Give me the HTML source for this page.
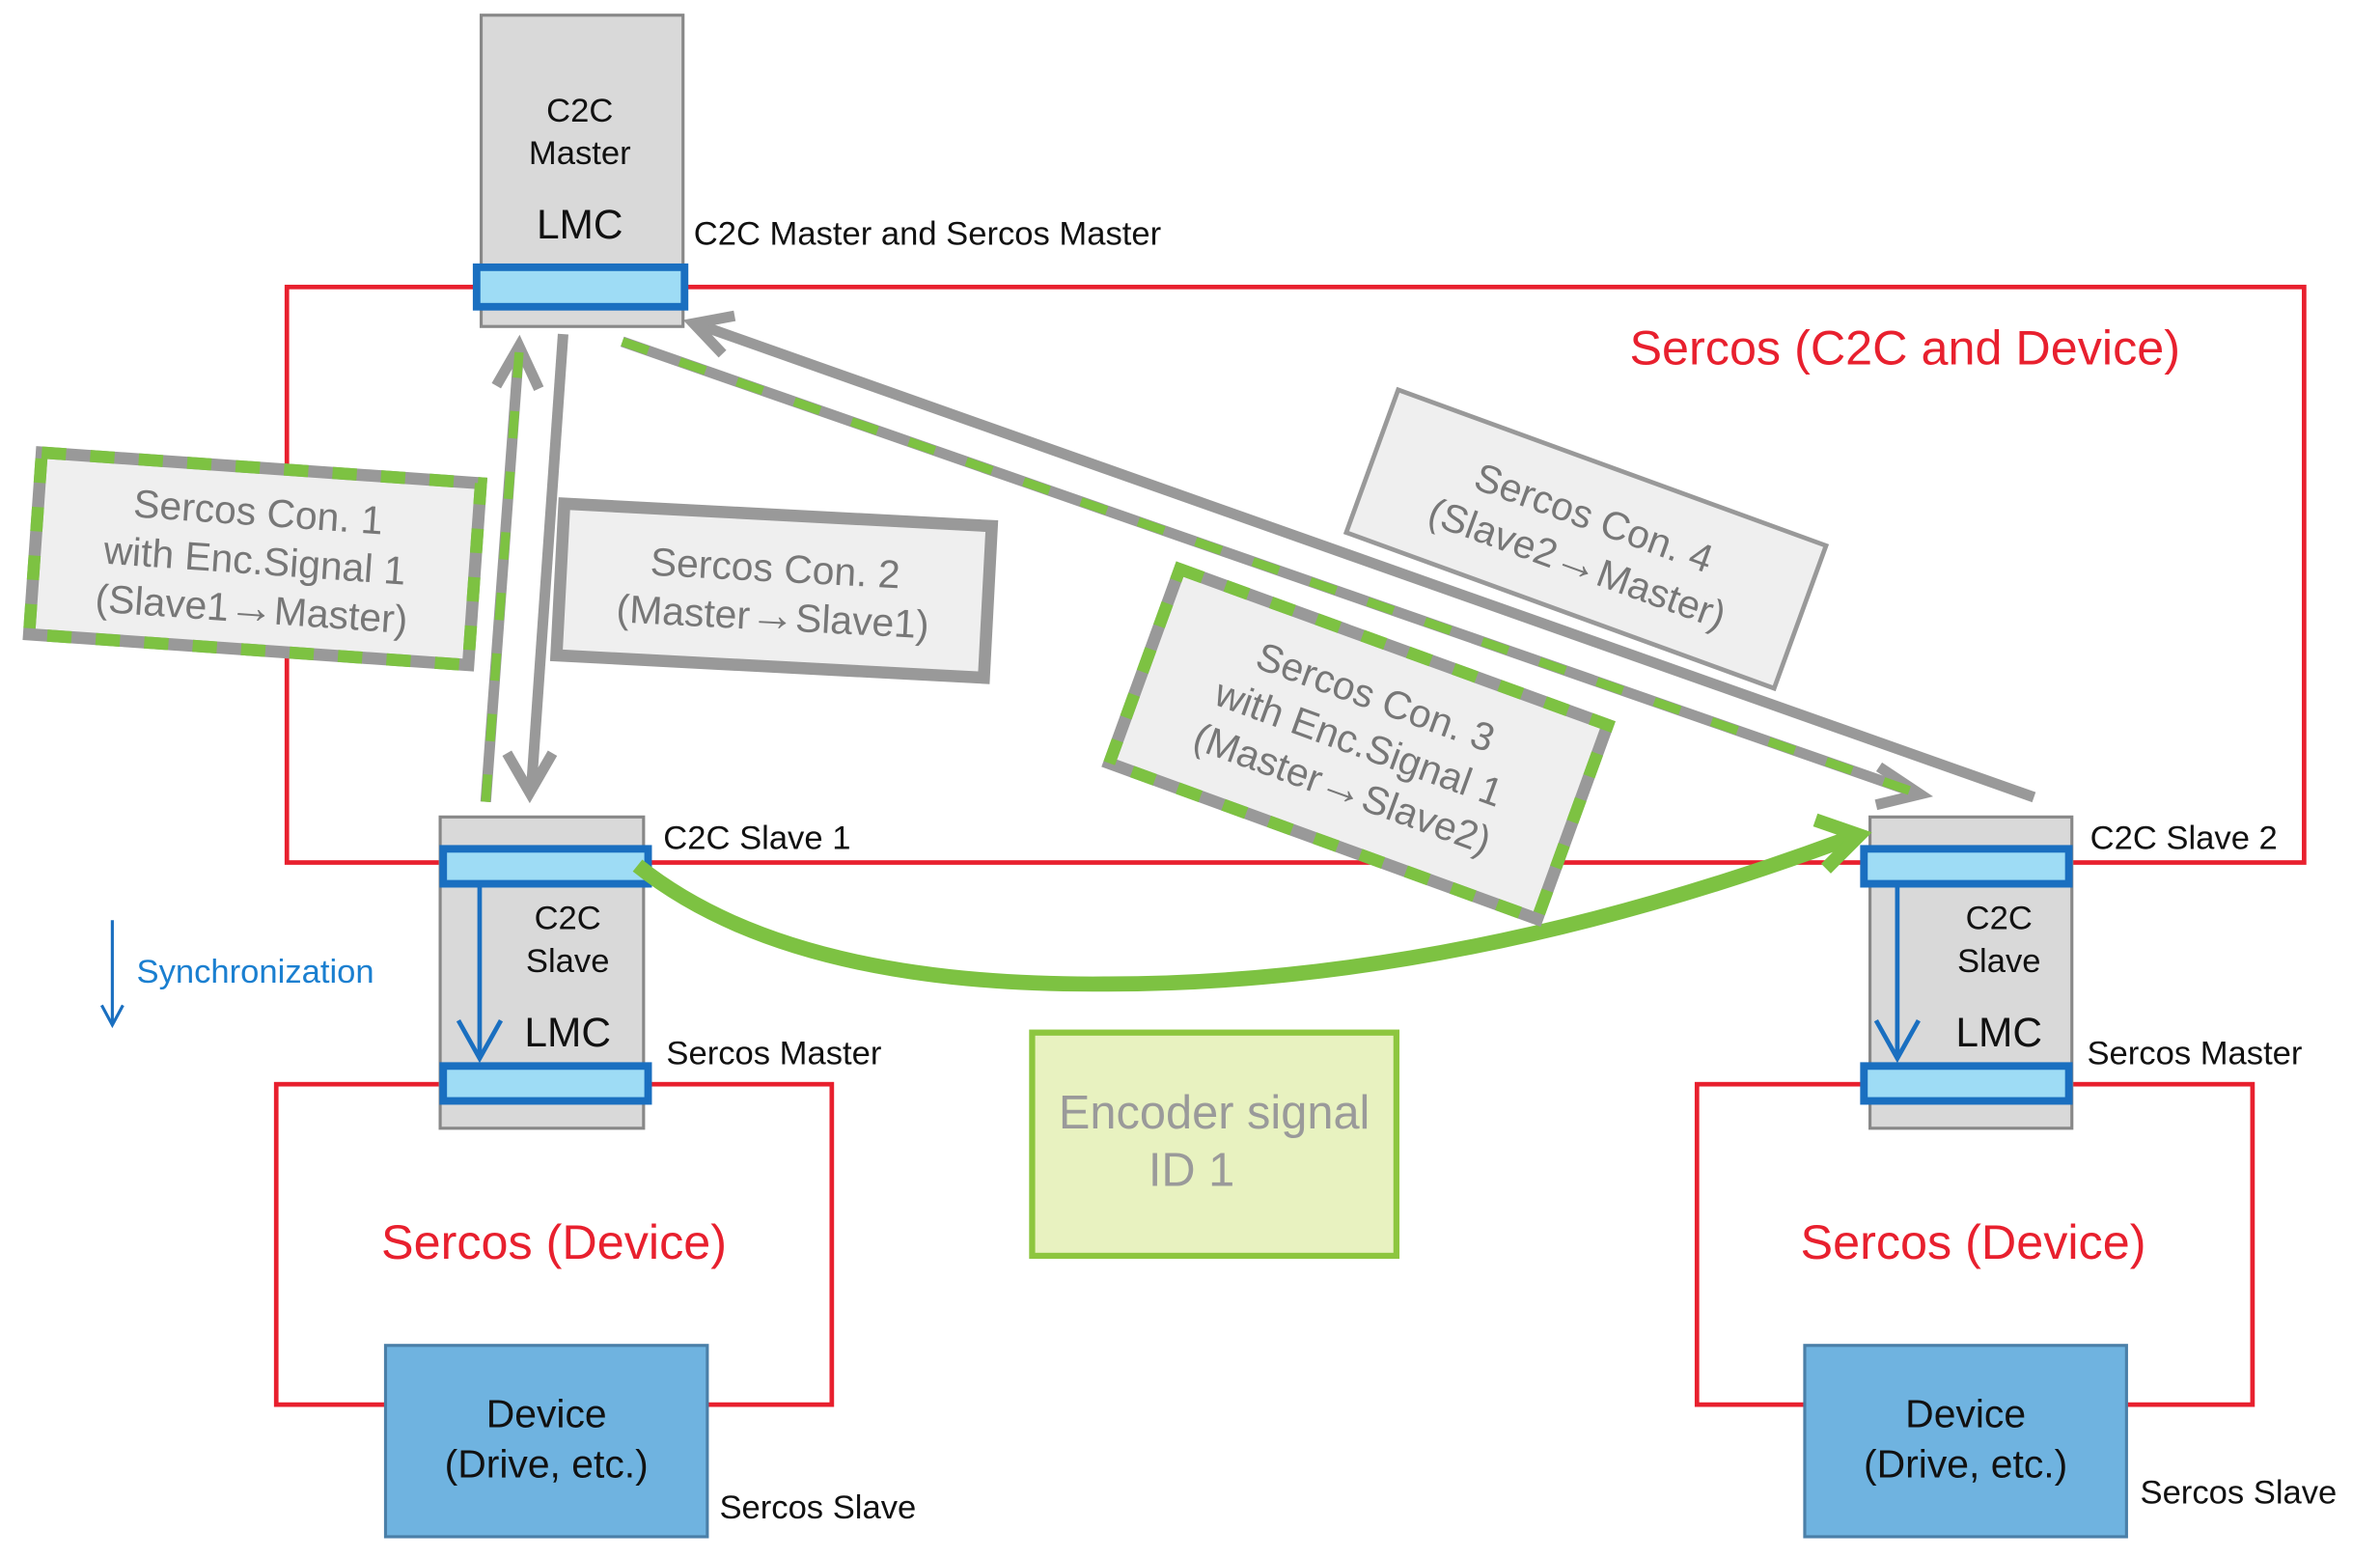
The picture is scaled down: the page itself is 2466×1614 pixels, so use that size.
<!DOCTYPE html>
<html><head><style>html,body{margin:0;padding:0;background:#fff}svg{display:block}</style></head><body>
<svg width="2466" height="1614" viewBox="0 0 1568 1026" preserveAspectRatio="none" xmlns="http://www.w3.org/2000/svg" font-family="Liberation Sans, Arial, sans-serif">
<rect width="1568" height="1026" fill="#fff"/>
<rect x="189" y="189" width="1329" height="379" fill="none" stroke="#e8202e" stroke-width="3"/>
<rect x="182" y="714" width="366" height="211" fill="none" stroke="#e8202e" stroke-width="3"/>
<rect x="1118" y="714" width="366" height="211" fill="none" stroke="#e8202e" stroke-width="3"/>
<text x="1255" y="240" font-size="32" fill="#e8202e" text-anchor="middle">Sercos (C2C and Device)</text>
<text x="365" y="829" font-size="32" fill="#e8202e" text-anchor="middle">Sercos (Device)</text>
<text x="1300" y="829" font-size="32" fill="#e8202e" text-anchor="middle">Sercos (Device)</text>

<g stroke="#999" stroke-width="7" fill="none">
<line x1="371" y1="220" x2="350" y2="520"/>
<polyline points="334,496 349,522 364,496"/>
<line x1="320" y1="528" x2="342" y2="228"/>
<polyline points="327,254 342,228 355,256"/>
<line x1="410" y1="225" x2="1262" y2="522"/>
<polyline points="1238,505 1265,523 1236,530"/>
<line x1="1340" y1="525" x2="458" y2="213"/>
<polyline points="484,208 457,213 476,233"/>
</g>
<g stroke="#7dc242" stroke-width="6" fill="none" stroke-dasharray="18 22">
<line x1="320" y1="528" x2="342" y2="232"/>
<line x1="410" y1="225" x2="1262" y2="522"/>
</g>

<rect x="317" y="10" width="133" height="205" fill="#d9d9d9" stroke="#888" stroke-width="2"/>
<text x="382" y="80" font-size="22" text-anchor="middle" fill="#111">C2C</text>
<text x="382" y="108" font-size="22" text-anchor="middle" fill="#111">Master</text>
<text x="382" y="157" font-size="27" text-anchor="middle" fill="#111">LMC</text>
<rect x="314" y="176" width="137" height="26" fill="#9edcf5" stroke="#1a6fc0" stroke-width="5"/>
<text x="457" y="161" font-size="22" fill="#111">C2C Master and Sercos Master</text>

<rect x="290" y="538" width="134" height="205" fill="#d9d9d9" stroke="#888" stroke-width="2"/>
<text x="374" y="612" font-size="22" text-anchor="middle" fill="#111">C2C</text>
<text x="374" y="640" font-size="22" text-anchor="middle" fill="#111">Slave</text>
<text x="374" y="689" font-size="27" text-anchor="middle" fill="#111">LMC</text>
<rect x="292" y="559" width="135" height="23" fill="#9edcf5" stroke="#1a6fc0" stroke-width="5"/>
<rect x="292" y="702" width="135" height="23" fill="#9edcf5" stroke="#1a6fc0" stroke-width="5"/>
<line x1="316" y1="583" x2="316" y2="697" stroke="#1a6fc0" stroke-width="3"/>
<polyline points="302,672 316,697 330,672" fill="none" stroke="#1a6fc0" stroke-width="3"/>

<rect x="1232" y="538" width="133" height="205" fill="#d9d9d9" stroke="#888" stroke-width="2"/>
<text x="1317" y="612" font-size="22" text-anchor="middle" fill="#111">C2C</text>
<text x="1317" y="640" font-size="22" text-anchor="middle" fill="#111">Slave</text>
<text x="1317" y="689" font-size="27" text-anchor="middle" fill="#111">LMC</text>
<rect x="1228" y="559" width="135" height="23" fill="#9edcf5" stroke="#1a6fc0" stroke-width="5"/>
<rect x="1228" y="702" width="135" height="23" fill="#9edcf5" stroke="#1a6fc0" stroke-width="5"/>
<line x1="1250" y1="583" x2="1250" y2="697" stroke="#1a6fc0" stroke-width="3"/>
<polyline points="1236,672 1250,697 1264,672" fill="none" stroke="#1a6fc0" stroke-width="3"/>

<text x="437" y="559" font-size="22" fill="#111">C2C Slave 1</text>
<text x="1377" y="559" font-size="22" fill="#111">C2C Slave 2</text>
<text x="439" y="701" font-size="22" fill="#111">Sercos Master</text>
<text x="1375" y="701" font-size="22" fill="#111">Sercos Master</text>

<path d="M420,570 Q520,650 730,648 Q960,648 1218,552" fill="none" stroke="#7dc242" stroke-width="10"/>
<polyline points="1196,540 1225,550 1203,572" fill="none" stroke="#7dc242" stroke-width="9"/>

<rect x="254" y="886" width="212" height="126" fill="#6fb3e0" stroke="#4a7fa8" stroke-width="2"/>
<text x="360" y="940" font-size="26" text-anchor="middle" fill="#111">Device</text>
<text x="360" y="973" font-size="26" text-anchor="middle" fill="#111">(Drive, etc.)</text>
<rect x="1189" y="886" width="212" height="126" fill="#6fb3e0" stroke="#4a7fa8" stroke-width="2"/>
<text x="1295" y="940" font-size="26" text-anchor="middle" fill="#111">Device</text>
<text x="1295" y="973" font-size="26" text-anchor="middle" fill="#111">(Drive, etc.)</text>
<text x="474" y="1000" font-size="22" fill="#111">Sercos Slave</text>
<text x="1410" y="990" font-size="22" fill="#111">Sercos Slave</text>

<line x1="74" y1="606" x2="74" y2="674" stroke="#1a6fc0" stroke-width="2"/>
<polyline points="67,662 74,675 81,662" fill="none" stroke="#1a6fc0" stroke-width="2"/>
<text x="90" y="647" font-size="22" fill="#1a7fd0">Synchronization</text>

<rect x="680" y="680" width="240" height="147" fill="#e8f2c0" stroke="#8dc63f" stroke-width="4"/>
<text x="800" y="743" font-size="31" text-anchor="middle" fill="#9a9a9a">Encoder signal</text>
<text x="785" y="781" font-size="31" text-anchor="middle" fill="#9a9a9a">ID 1</text>

<g transform="translate(168,368) rotate(4)">
<rect x="-145" y="-60" width="290" height="120" fill="#efefef" stroke="#999" stroke-width="8"/>
<rect x="-145" y="-60" width="290" height="120" fill="none" stroke="#7dc242" stroke-width="8" stroke-dasharray="16 16"/>
<text y="-22" font-size="26" text-anchor="middle" fill="#777">Sercos Con. 1</text>
<text y="10" font-size="26" text-anchor="middle" fill="#777">with Enc.Signal 1</text>
<text y="42" font-size="26" text-anchor="middle" fill="#777">(Slave1<tspan font-size="30">→</tspan>Master)</text>
</g>
<g transform="translate(510,389) rotate(3)">
<rect x="-141" y="-50" width="282" height="100" fill="#efefef" stroke="#999" stroke-width="8"/>
<text y="-6" font-size="26" text-anchor="middle" fill="#777">Sercos Con. 2</text>
<text y="26" font-size="26" text-anchor="middle" fill="#777">(Master<tspan font-size="30">→</tspan>Slave1)</text>
</g>
<g transform="translate(895,490) rotate(20)">
<rect x="-150" y="-68" width="300" height="136" fill="#efefef" stroke="#999" stroke-width="8"/>
<rect x="-150" y="-68" width="300" height="136" fill="none" stroke="#7dc242" stroke-width="8" stroke-dasharray="16 16"/>
<text y="-24" font-size="26" text-anchor="middle" fill="#777">Sercos Con. 3</text>
<text y="8" font-size="26" text-anchor="middle" fill="#777">with Enc.Signal 1</text>
<text y="40" font-size="26" text-anchor="middle" fill="#777">(Master<tspan font-size="30">→</tspan>Slave2)</text>
</g>
<g transform="translate(1045,355) rotate(20)">
<rect x="-150" y="-50" width="300" height="100" fill="#efefef" stroke="#999" stroke-width="3"/>
<text y="-6" font-size="26" text-anchor="middle" fill="#777">Sercos Con. 4</text>
<text y="26" font-size="26" text-anchor="middle" fill="#777">(Slave2<tspan font-size="30">→</tspan>Master)</text>
</g>
</svg>
</body></html>
